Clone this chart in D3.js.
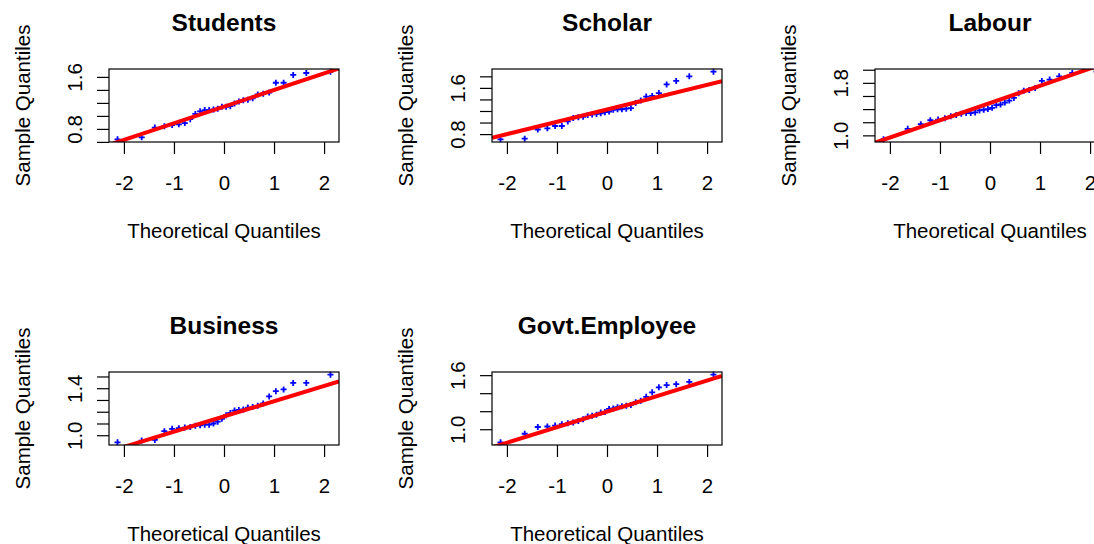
<!DOCTYPE html>
<html>
<head>
<meta charset="utf-8">
<script src="https://cdn.jsdelivr.net/npm/d3@7"></script>
<style>
  html, body { margin: 0; padding: 0; background: #fff; }
  svg { display: block; font-family: "Liberation Sans", Arial, sans-serif; }
</style>
</head>
<body>
<svg id="chart" width="1094" height="544"></svg>
<script>
// Panel titles, in drawing order (row by row)
const groups = ["Students", "Scholar", "Labour", "Business", "Govt.Employee"];

// Sorted sample values for each occupation group
const students = [0.64, 0.67, 0.82, 0.84, 0.86, 0.87, 0.89, 0.95, 1.03, 1.07,
                  1.09, 1.09, 1.10, 1.11, 1.14, 1.14, 1.15, 1.19, 1.22, 1.24,
                  1.25, 1.27, 1.33, 1.34, 1.36, 1.51, 1.51, 1.63, 1.66, 1.68];
const scholar  = [0.71, 0.72, 0.88, 0.90, 0.94, 0.94, 1.02, 1.08, 1.09, 1.10,
                  1.13, 1.14, 1.15, 1.16, 1.18, 1.19, 1.22, 1.23, 1.23, 1.24,
                  1.25, 1.34, 1.38, 1.45, 1.46, 1.51, 1.66, 1.72, 1.80, 1.88];
const labour   = [0.94, 1.10, 1.17, 1.23, 1.24, 1.26, 1.29, 1.31, 1.33, 1.34,
                  1.34, 1.35, 1.38, 1.39, 1.40, 1.42, 1.46, 1.47, 1.50, 1.53,
                  1.57, 1.64, 1.68, 1.69, 1.72, 1.83, 1.85, 1.90, 1.95, 1.97];
const business = [0.94, 0.955, 0.96, 1.035, 1.055, 1.06, 1.065, 1.07, 1.08, 1.085,
                  1.09, 1.09, 1.10, 1.115, 1.14, 1.17, 1.19, 1.21, 1.215, 1.22,
                  1.235, 1.24, 1.25, 1.27, 1.33, 1.375, 1.39, 1.445, 1.445, 1.515];
const govtEmployee = [0.855, 0.95, 1.025, 1.03, 1.04, 1.055, 1.065, 1.075, 1.09, 1.11,
                  1.14, 1.15, 1.16, 1.185, 1.19, 1.225, 1.23, 1.245, 1.255, 1.26,
                  1.27, 1.30, 1.315, 1.36, 1.41, 1.465, 1.49, 1.50, 1.525, 1.605];
const samples = [students, scholar, labour, business, govtEmployee];

// Axis ticks
const xTickValues = [-2, -1, 0, 1, 2];
const yTickValues = [
  [0.6, 0.8, 1.0, 1.2, 1.4, 1.6],
  [0.8, 1.0, 1.2, 1.4, 1.6, 1.8],
  [1.0, 1.2, 1.4, 1.6, 1.8, 2.0],
  [1.0, 1.1, 1.2, 1.3, 1.4, 1.5],
  [1.0, 1.2, 1.4, 1.6]
];
// Tick labels that have room to be printed
const yTickLabels = [
  ["0.8", "1.6"],
  ["0.8", "1.6"],
  ["1.0", "1.8"],
  ["1.0", "1.4"],
  ["1.0", "1.6"]
];

// Inverse standard normal CDF (Acklam's rational approximation)
function qnorm(p) {
  const a = [-3.969683028665376e+01, 2.209460984245205e+02, -2.759285104469687e+02,
             1.383577518672690e+02, -3.066479806614716e+01, 2.506628277459239e+00];
  const b = [-5.447609879822406e+01, 1.615858368580409e+02, -1.556989798598866e+02,
             6.680131188771972e+01, -1.328068155288572e+01];
  const c = [-7.784894002430293e-03, -3.223964580411365e-01, -2.400758277161838e+00,
             -2.549732539343734e+00, 4.374664141464968e+00, 2.938163982698783e+00];
  const d = [7.784695709041462e-03, 3.224671290700398e-01, 2.445134137142996e+00,
             3.754408661907416e+00];
  const plow = 0.02425;
  if (p < plow) {
    const q = Math.sqrt(-2 * Math.log(p));
    return (((((c[0]*q+c[1])*q+c[2])*q+c[3])*q+c[4])*q+c[5]) /
           ((((d[0]*q+d[1])*q+d[2])*q+d[3])*q+1);
  }
  if (p <= 1 - plow) {
    const q = p - 0.5, r = q * q;
    return (((((a[0]*r+a[1])*r+a[2])*r+a[3])*r+a[4])*r+a[5])*q /
           (((((b[0]*r+b[1])*r+b[2])*r+b[3])*r+b[4])*r+1);
  }
  const q = Math.sqrt(-2 * Math.log(1 - p));
  return -(((((c[0]*q+c[1])*q+c[2])*q+c[3])*q+c[4])*q+c[5]) /
          ((((d[0]*q+d[1])*q+d[2])*q+d[3])*q+1);
}

// Plotting positions for a normal QQ plot
function ppoints(n) {
  const a = n <= 10 ? 3 / 8 : 0.5;
  return d3.range(1, n + 1).map(i => (i - a) / (n + 1 - 2 * a));
}

// Pad a range by 4% on both sides
function padded(ext) {
  const r = ext[1] - ext[0];
  return [ext[0] - 0.04 * r, ext[1] + 0.04 * r];
}

const svg = d3.select("#chart");
const colLefts = [109, 492, 875];
const rowTops = [69, 372];
const W = 230, H = 73;
const FS = 20.5;

samples.forEach((vals, k) => {
  const left = colLefts[k % 3];
  const top = rowTops[Math.floor(k / 3)];
  const sorted = vals.slice().sort(d3.ascending);
  const theo = ppoints(sorted.length).map(qnorm);
  const pts = sorted.map((v, i) => [theo[i], v]);

  const x = d3.scaleLinear().domain(padded(d3.extent(theo))).range([left, left + W]);
  const y = d3.scaleLinear().domain(padded(d3.extent(sorted))).range([top + H, top]);

  const g = svg.append("g").attr("class", "panel");

  const clipId = "clip" + k;
  svg.append("clipPath").attr("id", clipId)
    .append("rect").attr("x", left).attr("y", top).attr("width", W).attr("height", H);

  // sample points
  g.append("g").selectAll("path").data(pts).join("path")
    .attr("transform", d => `translate(${x(d[0])},${y(d[1])})`)
    .attr("d", "M-3,0H3M0,-3V3")
    .attr("stroke", "#0000ff")
    .attr("stroke-width", 1.8)
    .attr("fill", "none");

  // reference line through the first and third quartiles
  const q1 = d3.quantileSorted(sorted, 0.25), q3 = d3.quantileSorted(sorted, 0.75);
  const t1 = qnorm(0.25), t3 = qnorm(0.75);
  const slope = (q3 - q1) / (t3 - t1);
  const icpt = q1 - slope * t1;
  const xd = x.domain();
  g.append("line")
    .attr("clip-path", `url(#${clipId})`)
    .attr("x1", x(xd[0])).attr("y1", y(icpt + slope * xd[0]))
    .attr("x2", x(xd[1])).attr("y2", y(icpt + slope * xd[1]))
    .attr("stroke", "#ff0000")
    .attr("stroke-width", 4);

  // frame
  g.append("rect")
    .attr("x", left).attr("y", top).attr("width", W).attr("height", H)
    .attr("fill", "none").attr("stroke", "#000").attr("stroke-width", 1.2);

  // x axis
  const xa = g.append("g").attr("transform", `translate(0,${top + H})`)
    .call(d3.axisBottom(x).tickValues(xTickValues).tickSize(12).tickFormat(d3.format("d")));
  xa.select(".domain").remove();
  xa.selectAll("line").attr("stroke", "#000").attr("stroke-width", 1.2);
  xa.selectAll("text")
    .attr("y", 48).attr("dy", 0)
    .attr("font-size", FS).attr("font-family", "Liberation Sans, Arial, sans-serif")
    .attr("fill", "#000")
    .text(d => d < 0 ? "-" + Math.abs(d) : String(d));

  // y axis
  const yt = yTickValues[k].filter(v => v >= y.domain()[0] && v <= y.domain()[1]);
  const shown = yTickLabels[k];
  const ya = g.append("g").attr("transform", `translate(${left},0)`)
    .call(d3.axisLeft(y).tickValues(yt).tickSize(12).tickFormat(d3.format(".1f")));
  ya.select(".domain").remove();
  ya.selectAll("line").attr("stroke", "#000").attr("stroke-width", 1.2);
  ya.selectAll("text")
    .attr("x", 0).attr("y", 0).attr("dy", 0)
    .attr("transform", "translate(-27,0) rotate(-90)")
    .attr("text-anchor", "middle")
    .attr("font-size", FS).attr("font-family", "Liberation Sans, Arial, sans-serif")
    .attr("fill", "#000")
    .text(function (d) { const s = d3.format(".1f")(d); return shown.includes(s) ? s : ""; });

  // titles and axis labels
  g.append("text")
    .attr("x", left + W / 2).attr("y", top - 38)
    .attr("text-anchor", "middle")
    .attr("font-size", 24.5).attr("font-weight", "bold")
    .attr("fill", "#000")
    .text(groups[k]);

  g.append("text")
    .attr("x", left + W / 2).attr("y", top + H + 96)
    .attr("text-anchor", "middle")
    .attr("font-size", FS).attr("fill", "#000")
    .text("Theoretical Quantiles");

  g.append("text")
    .attr("transform", `translate(${left - 79.5},${top + H / 2}) rotate(-90)`)
    .attr("text-anchor", "middle")
    .attr("font-size", FS).attr("fill", "#000")
    .text("Sample Quantiles");
});
</script>
</body>
</html>
